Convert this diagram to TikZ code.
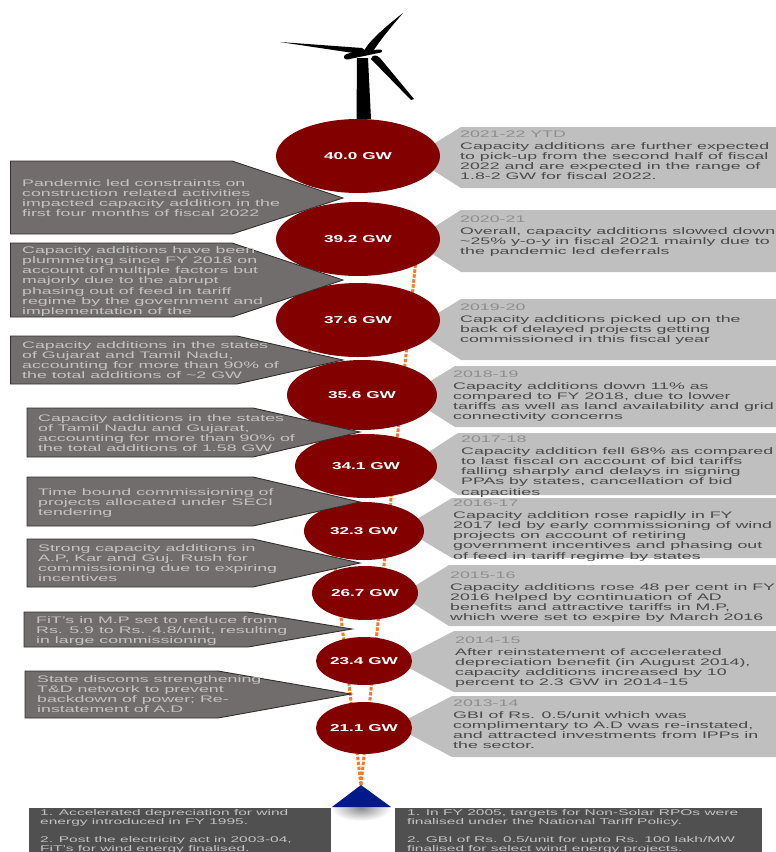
\documentclass[tikz,border=0pt]{standalone}
\usepackage{fontspec}
\setmainfont[FakeStretch=1.87]{Liberation Sans}
\newfontfamily\boldwide[FakeStretch=1.72]{Liberation Sans Bold}
\definecolor{maroon}{HTML}{820000}
\definecolor{rightgray}{HTML}{BFBFBF}
\definecolor{leftgray}{HTML}{716D6D}
\definecolor{edgegray}{HTML}{303030}
\definecolor{lefttext}{HTML}{C4C2C2}
\definecolor{righttext}{HTML}{4A4A4A}
\definecolor{headtext}{HTML}{8E8E8E}
\definecolor{dashorange}{HTML}{ED7D31}
\definecolor{peakblue}{HTML}{001A8C}
\definecolor{basegray}{HTML}{505050}
\tikzset{
  x=1pt,y=-1pt,
  disc/.style={ellipse,fill=maroon,inner sep=0,text=white,font=\boldwide\fontsize{10}{10}\selectfont},
  rcall/.style={fill=rightgray},
  lcall/.style={fill=leftgray,draw=edgegray,line width=0.9pt},
  ltext/.style={anchor=north west,inner sep=0,align=left,text=lefttext,font=\fontsize{9.5}{10.25}\selectfont},
  rtext/.style={anchor=north west,inner sep=0,align=left,text=righttext,font=\fontsize{9.5}{10.25}\selectfont},
  btext/.style={anchor=north west,inner sep=0,align=left,text=lefttext,font=\fontsize{8.3}{9}\selectfont},
  stake/.style={draw=dashorange,line width=3pt,dash pattern=on 3.5pt off 1.5pt},
}
\usetikzlibrary{shapes.geometric}
\newcommand{\yr}[1]{\textcolor{headtext}{#1}}
\begin{document}
\begin{tikzpicture}
\useasboundingbox (0,0) rectangle (776,852);
\clip (0,0) rectangle (776,852);
% stakes
\coordinate (apex) at (361,785);
\coordinate (topL) at (296,240);
\coordinate (topR) at (418,240);
\draw[stake] (apex) -- (topL);
\draw[stake] (apex) -- (topR);
% turbine
\fill (357,58) -- (368,58) -- (371,119) -- (356.5,119) -- cycle;
\fill[line join=round] (344,56) .. controls (343,60) and (348,60) .. (352,58.5) -- (381,52.5) .. controls (383,51) and (382,49) .. (378,49.5) -- (350,53) .. controls (347,54) and (345,54) .. (344,56) -- cycle;
\fill (280,42) -- (362,48) -- (368,52) -- (360,54) -- cycle;
\fill (403,13) .. controls (392,26) and (380,40) .. (372,53) -- (364,51) .. controls (368,42) and (385,27) .. (403,13) -- cycle;
\fill (414,99) -- (411,100) -- (371,59) .. controls (372,55) and (376,54) .. (380,58) -- cycle;
% right callouts
\fill[rcall] (776,127) -- (461,127) -- (412,157) -- (461,188) -- (776,188) -- cycle;
\fill[rcall] (776,210) -- (461,210) -- (412,241) -- (461,272) -- (776,272) -- cycle;
\fill[rcall] (776,299) -- (461,299) -- (412,329) -- (461,360) -- (776,360) -- cycle;
\fill[rcall] (776,366) -- (455,366) -- (406,396) -- (455,427) -- (776,427) -- cycle;
\fill[rcall] (776,433) -- (458,433) -- (410,464) -- (458,495) -- (776,495) -- cycle;
\fill[rcall] (776,498) -- (452,498) -- (402,528) -- (452,558) -- (776,558) -- cycle;
\fill[rcall] (776,565) -- (449,565) -- (400,595) -- (449,626) -- (776,626) -- cycle;
\fill[rcall] (776,631) -- (454,631) -- (396,661) -- (454,692) -- (776,692) -- cycle;
\fill[rcall] (776,696) -- (452,696) -- (394,726) -- (452,757) -- (776,757) -- cycle;
% peak with its soft shadow
\shade[inner color=black!45,outer color=white] (361,808) ellipse (30 and 13);
\fill[peakblue] (apex) -- (391,807) -- (332,807) -- cycle;
% discs
\node[disc,minimum width=164pt,minimum height=74pt] (d1) at (358,156) {40.0 GW};
\node[disc,minimum width=164pt,minimum height=74pt] (d2) at (358,239) {39.2 GW};
\node[disc,minimum width=164pt,minimum height=74pt] (d3) at (358,320) {37.6 GW};
\node[disc,minimum width=150pt,minimum height=70pt] (d4) at (362,395) {35.6 GW};
\node[disc,minimum width=142pt,minimum height=64pt] (d5) at (366,466) {34.1 GW};
\node[disc,minimum width=120pt,minimum height=58pt] (d6) at (364,531) {32.3 GW};
\node[disc,minimum width=106pt,minimum height=54pt] (d7) at (365,593) {26.7 GW};
\node[disc,minimum width=96pt,minimum height=48pt] (d8) at (364,661) {23.4 GW};
\node[disc,minimum width=82pt,minimum height=52pt] (d9) at (364,728) {21.1 GW};
% left callouts
\draw[lcall] (10.5,161) -- (232,161) -- (343,198) -- (232,234) -- (10.5,234) -- cycle;
\draw[lcall] (10.5,243) -- (232,243) -- (343,280) -- (232,317) -- (10.5,317) -- cycle;
\draw[lcall] (10.5,336) -- (237,336) -- (343,360) -- (237,384) -- (10.5,384) -- cycle;
\draw[lcall] (27,408) -- (253,408) -- (360,432) -- (253,457) -- (27,457) -- cycle;
\draw[lcall] (27,477) -- (253,477) -- (360,502) -- (253,526) -- (27,526) -- cycle;
\draw[lcall] (27,539) -- (253,539) -- (360,563) -- (253,587) -- (27,587) -- cycle;
\draw[lcall] (24,612) -- (248,612) -- (352,629) -- (248,647) -- (24,647) -- cycle;
\draw[lcall] (25,671) -- (218,671) -- (351,694) -- (218,718) -- (25,718) -- cycle;
% left texts
\node[ltext] (l1) at (22,179) {Pandemic led constraints on\\construction related activities\\impacted capacity addition in the\\first four months of fiscal 2022};
\node[ltext] (l2) at (22,246) {Capacity additions have been\\plummeting since FY 2018 on\\account of multiple factors but\\majorly due to the abrupt\\phasing out of feed in tariff\\regime by the government and\\implementation of the};
\node[ltext] (l3) at (22,341) {Capacity additions in the states\\of Gujarat and Tamil Nadu,\\accounting for more than 90\% of\\the total additions of \textasciitilde2 GW};
\node[ltext] (l4) at (38,414) {Capacity additions in the states\\of Tamil Nadu and Gujarat,\\accounting for more than 90\% of\\the total additions of 1.58 GW};
\node[ltext] (l5) at (38,488) {Time bound commissioning of\\projects allocated under SECI\\tendering};
\node[ltext] (l6) at (38,544) {Strong capacity additions in\\A.P, Kar and Guj. Rush for\\commissioning due to expiring\\incentives};
\node[ltext] (l7) at (36,616) {FiT's in M.P set to reduce from\\Rs. 5.9 to Rs. 4.8/unit, resulting\\in large commissioning};
\node[ltext] (l8) at (37,675) {State discoms strengthening\\T\&D network to prevent\\backdown of power; Re-\\instatement of A.D};
% right texts
\node[rtext] (r1) at (460,131) {\yr{2021-22 YTD}\\[1pt]Capacity additions are further expected\\to pick-up from the second half of fiscal\\2022 and are expected in the range of\\1.8-2 GW for fiscal 2022.};
\node[rtext] (r2) at (460,216) {\yr{2020-21}\\[1pt]Overall, capacity additions slowed down\\\textasciitilde25\% y-o-y in fiscal 2021 mainly due to\\the pandemic led deferrals};
\node[rtext] (r3) at (460,304) {\yr{2019-20}\\[1pt]Capacity additions picked up on the\\back of delayed projects getting\\commissioned in this fiscal year};
\node[rtext] (r4) at (453,371) {\yr{2018-19}\\[1pt]Capacity additions down 11\% as\\compared to FY 2018, due to lower\\tariffs as well as land availability and grid\\connectivity concerns};
\node[rtext] (r5) at (461,436) {\yr{2017-18}\\[1pt]Capacity addition fell 68\% as compared\\to last fiscal on account of bid tariffs\\falling sharply and delays in signing\\PPAs by states, cancellation of bid\\capacities};
\node[rtext] (r6) at (453,500) {\yr{2016-17}\\[1pt]Capacity addition rose rapidly in FY\\2017 led by early commissioning of wind\\projects on account of retiring\\government incentives and phasing out\\of feed in tariff regime by states};
\node[rtext] (r7) at (450,572) {\yr{2015-16}\\[1pt]Capacity additions rose 48 per cent in FY\\2016 helped by continuation of AD\\benefits and attractive tariffs in M.P,\\which were set to expire by March 2016};
\node[rtext] (r8) at (455,637) {\yr{2014-15}\\[1pt]After reinstatement of accelerated\\depreciation benefit (in August 2014),\\capacity additions increased by 10\\percent to 2.3 GW in 2014-15};
\node[rtext] (r9) at (453,700) {\yr{2013-14}\\[1pt]GBI of Rs. 0.5/unit which was\\complimentary to A.D was re-instated,\\and attracted investments from IPPs in\\the sector.};
% bottom boxes
\fill[basegray] (29,808) rectangle (331,852);
\fill[basegray] (395,808) rectangle (762,852);
\node[btext] (b1) at (40,809) {1. Accelerated depreciation for wind\\energy introduced in FY 1995.};
\node[btext] (b2) at (40,836) {2. Post the electricity act in 2003-04,\\FiT's for wind energy finalised.};
\node[btext] (b3) at (407,809) {1. In FY 2005, targets for Non-Solar RPOs were\\finalised under the National Tariff Policy.};
\node[btext] (b4) at (407,836) {2. GBI of Rs. 0.5/unit for upto Rs. 100 lakh/MW\\finalised for select wind energy projects.};
\end{tikzpicture}
\end{document}
